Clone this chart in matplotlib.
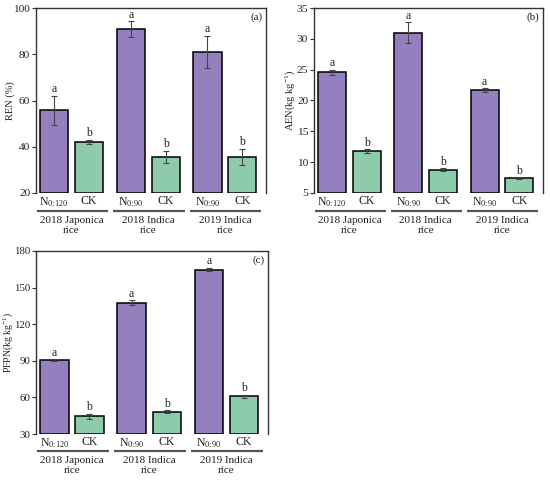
import matplotlib
matplotlib.use("Agg")
import matplotlib.pyplot as plt
import matplotlib.transforms as mtransforms
import numpy as np

# ---------------- data ----------------
groups = ['2018 Japonica\nrice', '2018 Indica\nrice', '2019 Indica\nrice']
treat_labels = [r'N$_{\mathrm{0\!:\!120}}$', 'CK', r'N$_{\mathrm{0\!:\!90}}$', 'CK',
                r'N$_{\mathrm{0\!:\!90}}$', 'CK']

ren_n = [55.8, 90.8, 81.1]
ren_n_err = [6.3, 3.5, 7.0]
ren_ck = [42.1, 35.7, 35.5]
ren_ck_err = [1.0, 2.6, 3.6]

aen_n = [24.6, 31.0, 21.7]
aen_n_err = [0.4, 1.7, 0.3]
aen_ck = [11.8, 8.8, 7.4]
aen_ck_err = [0.3, 0.2, 0.2]

pfpn_n = [90.5, 137.7, 164.7]
pfpn_n_err = [1.0, 2.0, 1.5]
pfpn_ck = [44.6, 48.4, 61.1]
pfpn_ck_err = [2.0, 1.0, 1.2]

letters_n = ['a', 'a', 'a']
letters_ck = ['b', 'b', 'b']

# ---------------- style ----------------
plt.rcParams['font.family'] = ['Liberation Serif', 'DejaVu Serif']
plt.rcParams['mathtext.fontset'] = 'custom'
plt.rcParams['mathtext.rm'] = 'Liberation Serif'
plt.rcParams['mathtext.it'] = 'Liberation Serif:italic'
plt.rcParams['mathtext.bf'] = 'Liberation Serif:bold'

PURPLE = '#9580BF'
GREEN = '#8DCBAA'
SPINE = '#333333'
TXT = '#222222'
FS = 8.5

fig = plt.figure(figsize=(5.5, 4.83), dpi=100)
W, H = 550.0, 483.0


def add_axes(l, r, t, b):
    return fig.add_axes([l / W, 1 - b / H, (r - l) / W, (b - t) / H])


def panel(ax, n_vals, n_err, ck_vals, ck_err, ylim, yticks, ylabel, tag,
          ylab_x, ylab_fs=7.5, ytick_fs=8.2):
    pitch = 2.2
    xn = np.arange(len(groups)) * pitch
    xc = xn + 1.0
    width = 0.81
    ax.bar(xn, [v - ylim[0] for v in n_vals], bottom=ylim[0], width=width,
           color=PURPLE, edgecolor='black', linewidth=1.1, zorder=2)
    ax.bar(xc, [v - ylim[0] for v in ck_vals], bottom=ylim[0], width=width,
           color=GREEN, edgecolor='black', linewidth=1.1, zorder=2)
    ax.errorbar(xn, n_vals, yerr=n_err, fmt='none', ecolor='#444444',
                elinewidth=0.8, capsize=2, capthick=0.8, zorder=3)
    ax.errorbar(xc, ck_vals, yerr=ck_err, fmt='none', ecolor='#444444',
                elinewidth=0.8, capsize=2, capthick=0.8, zorder=3)
    for x, v, e, s in zip(xn, n_vals, n_err, letters_n):
        ax.annotate(s, (x, v + e), xytext=(0, 0.3), textcoords='offset points',
                    ha='center', va='bottom', fontsize=FS, color=TXT)
    for x, v, e, s in zip(xc, ck_vals, ck_err, letters_ck):
        ax.annotate(s, (x, v + e), xytext=(0, 0.3), textcoords='offset points',
                    ha='center', va='bottom', fontsize=FS, color=TXT)

    ax.set_xlim(-0.52, xc[-1] + 0.68)
    ax.set_ylim(*ylim)
    ax.set_yticks(yticks)
    ax.tick_params(axis='y', direction='out', length=3, width=0.8,
                   labelsize=ytick_fs, colors=SPINE, labelcolor=TXT, pad=1.2)
    xs = np.ravel(np.column_stack([xn, xc]))
    ax.set_xticks(xs)
    ax.set_xticklabels(treat_labels)
    ax.tick_params(axis='x', length=0, labelsize=FS, labelcolor=TXT, pad=1.5)
    ax.spines['bottom'].set_visible(False)
    for s in ['left', 'top', 'right']:
        ax.spines[s].set_color(SPINE)
        ax.spines[s].set_linewidth(1.0)
    ax.set_ylabel(ylabel, fontsize=ylab_fs, color=TXT)
    ax.yaxis.set_label_coords(ylab_x, 0.5)

    trans = mtransforms.blended_transform_factory(ax.transData, ax.transAxes)
    for i, g in enumerate(groups):
        ax.plot([xn[i] - 0.5, xc[i] + 0.55], [-0.095, -0.095], transform=trans,
                color='#555555', lw=1.6, clip_on=False, solid_capstyle='butt')
        ax.text((xn[i] + xc[i]) / 2, -0.122, g, transform=trans, ha='center',
                va='top', fontsize=8, color=TXT, linespacing=1.15)
    ax.text(0.985, 0.975, tag, transform=ax.transAxes, ha='right', va='top',
            fontsize=8, color=TXT)


ax_a = add_axes(36, 266, 8, 193)
panel(ax_a, ren_n, ren_n_err, ren_ck, ren_ck_err, (20, 100),
      [20, 40, 60, 80, 100], 'REN (%)', '(a)', -0.09)

ax_b = add_axes(314, 543, 8, 193)
panel(ax_b, aen_n, aen_n_err, aen_ck, aen_ck_err, (5, 35),
      [5, 10, 15, 20, 25, 30, 35], r'AEN(kg kg$^{-1}$)', '(b)', -0.075)

ax_c = add_axes(36, 268, 251, 434)
panel(ax_c, pfpn_n, pfpn_n_err, pfpn_ck, pfpn_ck_err, (30, 180),
      [30, 60, 90, 120, 150, 180], r'PFPN(kg kg$^{-1}$)', '(c)', -0.09,
      ylab_fs=7, ytick_fs=7.8)

fig.savefig('out.png', dpi=100, facecolor='white')
